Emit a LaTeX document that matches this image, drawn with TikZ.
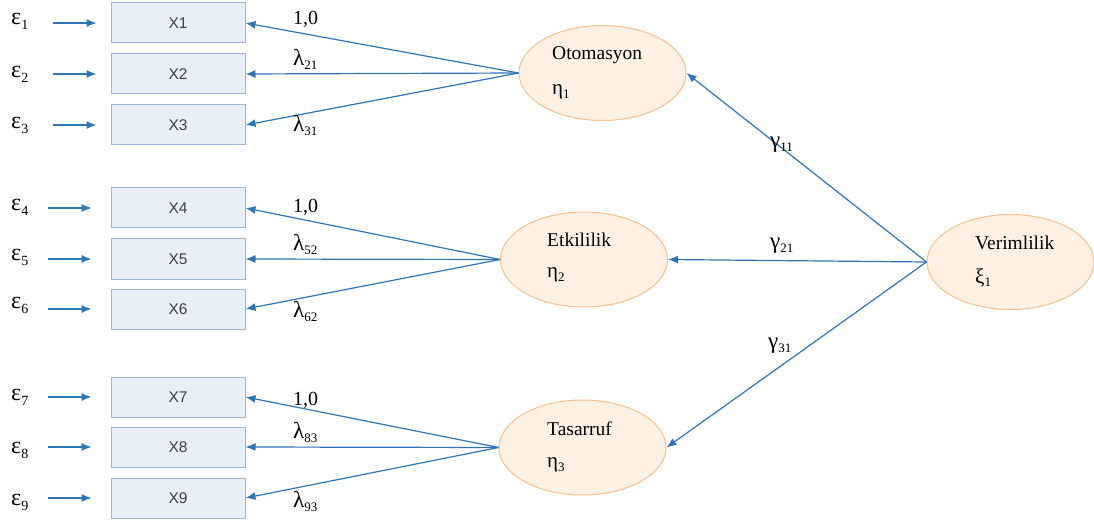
\documentclass[tikz,border=0pt]{standalone}
\usepackage{fontspec}
\setmainfont{Liberation Serif}
\newfontfamily\xsans{Liberation Sans}
\usetikzlibrary{shapes.geometric,arrows.meta}
\definecolor{lineblue}{HTML}{2E75B6}
\definecolor{boxfill}{HTML}{E9EFF8}
\definecolor{boxdraw}{HTML}{9DB5DE}
\definecolor{ellfill}{HTML}{FEF0E3}
\definecolor{elldraw}{HTML}{F7C08E}
\definecolor{xtext}{HTML}{404040}
\newcommand{\lsub}[1]{\raisebox{-4pt}{\fontsize{13}{13}\selectfont #1}}
\newcommand{\esub}[1]{\raisebox{-5pt}{\fontsize{14}{14}\selectfont #1}}
\newcommand{\gk}[1]{{\fontsize{23}{23}\selectfont #1}}
\begin{document}
\begin{tikzpicture}[x=1pt,y=-1pt,
  obs/.style={draw=boxdraw,fill=boxfill,line width=1pt,minimum width=134pt,minimum height=40pt,inner sep=0pt,font=\xsans\fontsize{15.5}{15.5}\selectfont,text=xtext},
  lat/.style={ellipse,draw=elldraw,fill=ellfill,line width=1pt,minimum width=167pt,minimum height=95pt,inner sep=0pt},
  arr/.style={draw=lineblue,line width=1.2pt,-{Latex[length=10pt,width=8pt]}},
  lab/.style={anchor=base west,inner sep=0pt,font=\fontsize{20}{20}\selectfont},
  ttl/.style={anchor=base west,inner sep=0pt,font=\fontsize{19.5}{20}\selectfont},
  eta/.style={anchor=base west,inner sep=0pt,font=\fontsize{21}{21}\selectfont},
  eps/.style={anchor=base west,inner sep=0pt,font=\fontsize{24}{24}\selectfont},
]
\useasboundingbox (0,0) rectangle (1094,521);

% observed boxes
\node[obs] (x1) at (178,23) {X1};
\node[obs] (x2) at (178,74) {X2};
\node[obs] (x3) at (178,125) {X3};
\node[obs] (x4) at (178,208) {X4};
\node[obs] (x5) at (178,259) {X5};
\node[obs] (x6) at (178,309) {X6};
\node[obs] (x7) at (178,397) {X7};
\node[obs] (x8) at (178,447) {X8};
\node[obs] (x9) at (178,498) {X9};

% latent ellipses
\node[lat] (oto) at (602.5,73) {};
\node[lat] (etk) at (584,259.5) {};
\node[lat] (tas) at (582.5,447.5) {};
\node[lat] (ver) at (1010.5,262) {};

\node[ttl] (oto-t) at (552,60) {Otomasyon};
\node[eta] (oto-e) at (552,95) {η\lsub{1}};
\node[ttl] (etk-t) at (547,247) {Etkililik};
\node[eta] (etk-e) at (547,277) {η\lsub{2}};
\node[ttl] (tas-t) at (547,435) {Tasarruf};
\node[eta] (tas-e) at (547,467) {η\lsub{3}};
\node[ttl] (ver-t) at (975,250) {Verimlilik};
\node[eta] (ver-e) at (975,283) {ξ\lsub{1}};

% error terms
\node[eps] (e1) at (11,25) {ε\esub{1}};
\node[eps] (e2) at (11,78) {ε\esub{2}};
\node[eps] (e3) at (11,129) {ε\esub{3}};
\node[eps] (e4) at (11,211) {ε\esub{4}};
\node[eps] (e5) at (11,261) {ε\esub{5}};
\node[eps] (e6) at (11,308) {ε\esub{6}};
\node[eps] (e7) at (11,400) {ε\esub{7}};
\node[eps] (e8) at (11,453) {ε\esub{8}};
\node[eps] (e9) at (11,505) {ε\esub{9}};

\draw[arr] ([xshift=-58pt]x1.west) -- ([xshift=-14pt]x1.west);
\draw[arr] ([xshift=-58pt]x2.west) -- ([xshift=-14pt]x2.west);
\draw[arr] ([xshift=-58pt]x3.west) -- ([xshift=-14pt]x3.west);
\draw[arr] ([xshift=-63pt]x4.west) -- ([xshift=-19pt]x4.west);
\draw[arr] ([xshift=-63pt]x5.west) -- ([xshift=-19pt]x5.west);
\draw[arr] ([xshift=-63pt]x6.west) -- ([xshift=-19pt]x6.west);
\draw[arr] ([xshift=-63pt]x7.west) -- ([xshift=-19pt]x7.west);
\draw[arr] ([xshift=-63pt]x8.west) -- ([xshift=-19pt]x8.west);
\draw[arr] ([xshift=-63pt]x9.west) -- ([xshift=-19pt]x9.west);

% loadings
\draw[arr] (oto.west) -- (x1.east);
\draw[arr] (oto.west) -- (x2.east);
\draw[arr] (oto.west) -- (x3.east);
\draw[arr] (etk.west) -- (x4.east);
\draw[arr] (etk.west) -- (x5.east);
\draw[arr] (etk.west) -- (x6.east);
\draw[arr] (tas.west) -- (x7.east);
\draw[arr] (tas.west) -- (x8.east);
\draw[arr] (tas.west) -- (x9.east);

% structural paths
\draw[arr] (ver.west) -- (oto.east);
\draw[arr] (ver.west) -- (etk.east);
\draw[arr] (ver.west) -- (tas.east);

% labels
\node[lab] (l11) at (293,25) {1,0};
\node[lab] (l21) at (293,66) {\gk{λ}\lsub{21}};
\node[lab] (l31) at (293,132) {\gk{λ}\lsub{31}};
\node[lab] (l42) at (293,213) {1,0};
\node[lab] (l52) at (293,251) {\gk{λ}\lsub{52}};
\node[lab] (l62) at (293,317) {\gk{λ}\lsub{62}};
\node[lab] (l73) at (293,405) {1,0};
\node[lab] (l83) at (293,438) {\gk{λ}\lsub{83}};
\node[lab] (l93) at (293,507) {\gk{λ}\lsub{93}};

\node[lab] (g11) at (770,148) {\gk{γ}\lsub{11}};
\node[lab] (g21) at (770,248) {\gk{γ}\lsub{21}};
\node[lab] (g31) at (768,348) {\gk{γ}\lsub{31}};
\end{tikzpicture}
\end{document}
